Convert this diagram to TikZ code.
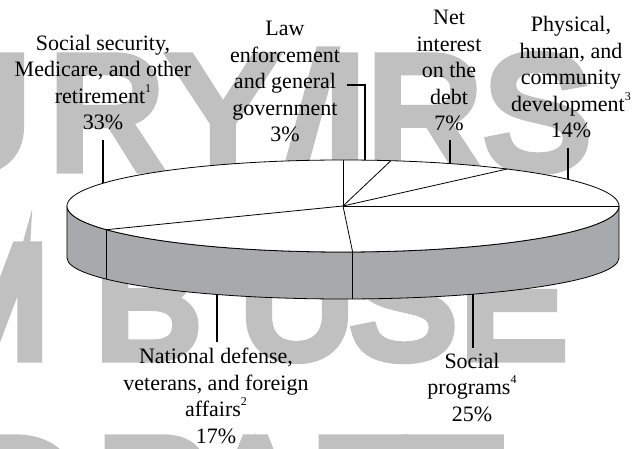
\documentclass[tikz,border=0pt]{standalone}
\usepackage{fontspec}
\setmainfont{Liberation Serif}
\newfontfamily\wmfont{Liberation Sans}[FakeBold=7]
\usetikzlibrary{calc}

\definecolor{rimgray}{RGB}{167,169,172}
\definecolor{wmgray}{RGB}{192,192,192}

\newcommand{\fnote}[1]{\raisebox{11pt}{\fontsize{12}{12}\selectfont #1}}

\tikzset{
    % text round the pie
    slicetext/.style={
        align=center, inner sep=0pt,
        font=\fontsize{22}{26.5}\selectfont
    },
    % big grey letters behind the chart
    wmletter/.style={
        inner sep=0pt, anchor=base, text=wmgray,
        font=\wmfont\fontsize{160}{160}\selectfont
    },
    pie/.style={line width=0.8pt, line join=round},
    leader/.style={line width=1.5pt}
}

\begin{document}
\begin{tikzpicture}[x=1pt, y=1pt]
    \useasboundingbox (-343,-243) rectangle (300,206);
    \clip (-343,-243) rectangle (300,206);

    % watermark
    \foreach \ch/\x/\y [count=\i] in {U/-370/38, R/-236/38, Y/-120/38,
            I/2/38, R/82/38, S/194/38,
            M/-360/-151, B/-195/-151, U/-46/-151, S/60/-151, E/170/-151,
            D/-321/-344, R/-188/-344, A/-88/-344, F/17/-344, T/110/-344} {
        \node[wmletter] (w\i) at (\x,\y) {\ch};
    }
    \node[wmletter] (wslash) at (-32,38) {/};

    % pie: rim, then top face
    \coordinate (c) at (0,0);
    \coordinate (cb) at (0,-52);
    \filldraw[pie, fill=rimgray] (-276,0)
        arc[start angle=180, end angle=360, x radius=276, y radius=46]
        -- (276,-52)
        arc[start angle=360, end angle=180, x radius=276, y radius=41]
        -- cycle;
    \filldraw[pie, fill=white] (c) ellipse[x radius=276, y radius=46];

    \foreach \t [count=\i] in {90, 80, 53.5, 0, 272, 211} {
        \coordinate (b\i) at (\t:276 and 46);
        \draw[pie] (c) -- (b\i);
    }
    \foreach \t [count=\i] in {272, 211} {
        \coordinate (s\i) at ($(cb)+(\t:276 and 41)$);
        \coordinate (t\i) at (\t:276 and 46);
        \draw[pie] (t\i) -- (s\i);
    }

    % labels
    \node[slicetext, anchor=south] (ss) at (-240,76)
        {Social security,\\Medicare, and other\\retirement\fnote{1}\\33\%};
    \node[slicetext, anchor=south] (law) at (-58,64)
        {Law\\enforcement\\and general\\government\\3\%};
    \node[slicetext, anchor=south] (net) at (106,75)
        {Net\\interest\\on the\\debt\\7\%};
    \node[slicetext, anchor=south] (phys) at (228,68)
        {Physical,\\human, and\\community\\development\fnote{3}\\14\%};
    \node[slicetext, anchor=north] (def) at (-127,-142)
        {National defense,\\veterans, and foreign\\affairs\fnote{2}\\17\%};
    \node[slicetext, anchor=north] (soc) at (129,-147)
        {Social\\programs\fnote{4}\\25\%};

    % leaders
    \coordinate (ssrim) at (-240,22.7);
    \coordinate (lawtab) at (4,121);
    \coordinate (lawrim) at (22,45.9);
    \coordinate (netrim) at (107,42.4);
    \coordinate (physrim) at (225,26.6);
    \coordinate (defrim) at (-126,-88.5);
    \coordinate (socrim) at (130,-88.2);
    \draw[leader] ([yshift=-10pt]ss.south) -- (ssrim);
    \draw[leader] (lawtab) -- (lawtab -| lawrim) -- (lawrim);
    \draw[leader] ([yshift=-9pt]net.south -| netrim) -- (netrim);
    \draw[leader] ([yshift=-10pt]phys.south -| physrim) -- (physrim);
    \draw[leader] ([yshift=6pt]def.north -| defrim) -- (defrim);
    \draw[leader] ([yshift=5pt]soc.north -| socrim) -- (socrim);
\end{tikzpicture}
\end{document}
